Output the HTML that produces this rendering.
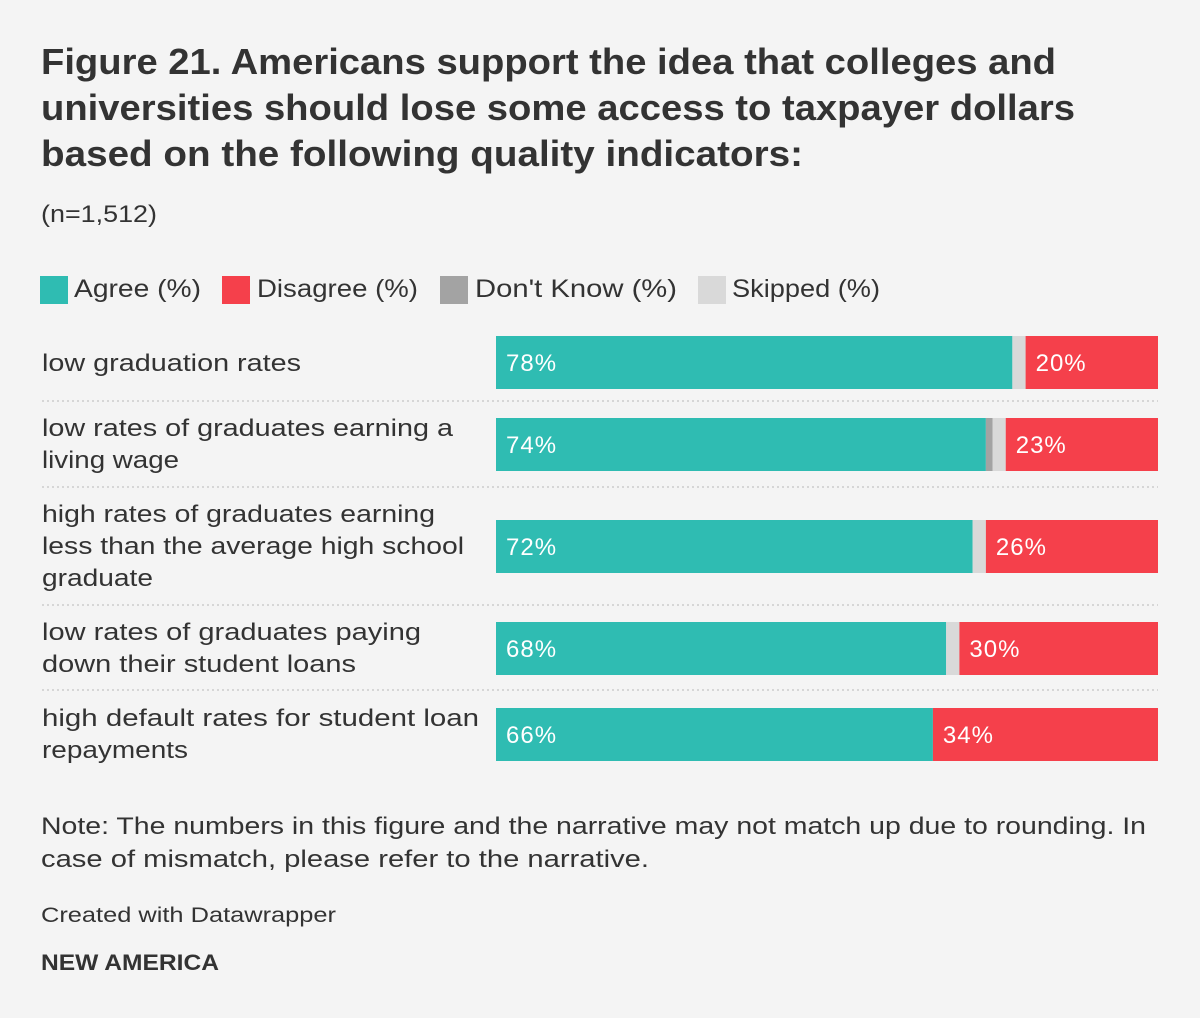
<!DOCTYPE html>
<html><head><meta charset="utf-8"><style>
html,body{margin:0;padding:0;background:#f4f4f4;}
svg{display:block;font-family:"Liberation Sans",sans-serif;}
</style></head><body>
<svg id="chart" width="1200" height="1018" viewBox="0 0 1200 1018">
<rect width="1200" height="1018" fill="#f4f4f4"/>
<g fill="#333" font-weight="bold" font-size="36">
<text x="41" y="74" textLength="1015" lengthAdjust="spacingAndGlyphs">Figure 21. Americans support the idea that colleges and</text>
<text x="41" y="120" textLength="1034" lengthAdjust="spacingAndGlyphs">universities should lose some access to taxpayer dollars</text>
<text x="41" y="166" textLength="762" lengthAdjust="spacingAndGlyphs">based on the following quality indicators:</text>
</g>
<text x="41" y="222" fill="#333" font-size="24" textLength="116" lengthAdjust="spacingAndGlyphs">(n=1,512)</text>
<g id="legend"></g>
<g id="rows"></g>
<g fill="#333" font-size="24">
<text x="41" y="834" textLength="1105" lengthAdjust="spacingAndGlyphs">Note: The numbers in this figure and the narrative may not match up due to rounding. In</text>
<text x="41" y="867" textLength="608" lengthAdjust="spacingAndGlyphs">case of mismatch, please refer to the narrative.</text>
</g>
<text x="41" y="922" fill="#333" font-size="21" textLength="295" lengthAdjust="spacingAndGlyphs">Created with Datawrapper</text>
<text x="41" y="970" fill="#333" font-size="22" font-weight="bold" textLength="178" lengthAdjust="spacingAndGlyphs">NEW AMERICA</text>
</svg>
<script>
const categories = [
  ["low graduation rates"],
  ["low rates of graduates earning a","living wage"],
  ["high rates of graduates earning","less than the average high school","graduate"],
  ["low rates of graduates paying","down their student loans"],
  ["high default rates for student loan","repayments"]
];
const agree = [78, 74, 72, 68, 66];
const disagree = [20, 23, 26, 30, 34];
const dontKnow = [0, 1, 0, 0, 0];
const skipped = [2, 2, 2, 2, 0];
const seriesNames = ["Agree (%)","Disagree (%)","Don't Know (%)","Skipped (%)"];

const NS = "http://www.w3.org/2000/svg";
const colors = ["#2fbcb2","#f5404b","#a3a3a3","#d9d9d9"];
const X0 = 496, X1 = 1158;
const xScale = v => (X1 - X0) * v / 100;
function mk(tag, attrs, parent){ const e=document.createElementNS(NS,tag); for(const k in attrs) e.setAttribute(k,attrs[k]); parent.appendChild(e); return e; }

// legend
const leg = document.getElementById('legend');
const legSq = [40,222,440,698], legTx=[74,257,475,732], legW=[127,161,202,148];
seriesNames.forEach((n,i)=>{
  const g = mk('g',{},leg);
  
  
  mk('rect',{x:legSq[i],y:276,width:28,height:28,fill:colors[i]},g);
  const t = mk('text',{x:legTx[i],y:297,'font-size':25,fill:'#333',textLength:legW[i],lengthAdjust:'spacingAndGlyphs'},g);
  t.textContent = n;
});

// rows
const rowsG = document.getElementById('rows');
const barTop = [336,418,520,622,708];
const labelBase = [[371],[436,468],[522,554,586],[640,672],[726,758]];
const seps = [401,487,605,690];
const labelW = {"low graduation rates":259,"low rates of graduates earning a":411,"living wage":137,"high rates of graduates earning":393,"less than the average high school":422,"graduate":111,"low rates of graduates paying":379,"down their student loans":314,"high default rates for student loan":437,"repayments":146};
categories.forEach((lines,i)=>{
  const g = mk('g',{},rowsG);
  
  
  lines.forEach((ln,j)=>{
    const t = mk('text',{x:42,y:labelBase[i][j],'font-size':24,fill:'#333',textLength:labelW[ln]||ln.length*12,lengthAdjust:'spacingAndGlyphs'},g);
    
    
    t.textContent = ln;
  });
  const vals = [agree[i], dontKnow[i], skipped[i], disagree[i]];
  const cols = [colors[0],colors[2],colors[3],colors[1]];
  const names = ['bar-agree','bar-dont-know','bar-skipped','bar-disagree'];
  let cum = 0;
  vals.forEach((v,k)=>{
    if(v<=0) return;
    const x = X0 + xScale(cum), w = xScale(v);
    const r = mk('rect',{x:x,y:barTop[i],width:w,height:53,fill:cols[k]},g);
    
    
    if(k===0 || k===3){
      const t = mk('text',{x:x+10,y:barTop[i]+35,'font-size':24,fill:'#fff','letter-spacing':'1'},g);
      
      
      t.textContent = v+'%';
    }
    cum += v;
  });
});
seps.forEach(y=>{
  const l = mk('line',{x1:42,x2:1158,y1:y,y2:y,stroke:'#d6d6d6','stroke-width':2,'stroke-dasharray':'2,3'},rowsG);
  
  
});
</script>
</body></html>
